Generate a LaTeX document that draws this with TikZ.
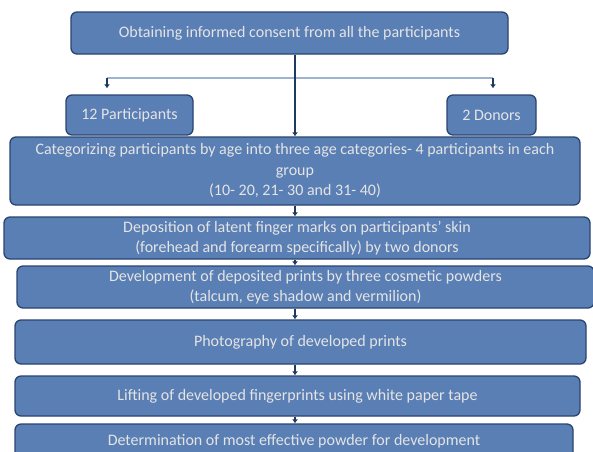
\documentclass[tikz,border=0pt]{standalone}
\usepackage{fontspec}
\setmainfont{Carlito}
\usetikzlibrary{positioning,arrows.meta}
\definecolor{boxfill}{HTML}{5A7FB5}
\definecolor{boxline}{HTML}{2A4470}
\definecolor{boxtext}{HTML}{E4E4E4}
\definecolor{linkcol}{HTML}{1F3A62}
\definecolor{splitcol}{HTML}{9DB3CF}

\begin{document}
\begin{tikzpicture}[x=1pt, y=-1pt,
  stage/.style={draw=boxline, line width=1.3pt, rounded corners=6pt, fill=boxfill,
    text=boxtext, align=center, inner sep=0pt, font=\fontsize{16}{20.5}\selectfont},
  arr/.style={-{Latex[length=4pt,width=6pt]}, line width=2.4pt, draw=linkcol},
  split/.style={line width=1.2pt, draw=splitcol}
]
\useasboundingbox (0,0) rectangle (593,451);
\node[stage, minimum width=437pt, minimum height=42pt] (consent) at (289.5,33) {Obtaining informed consent from all the participants};
\node[stage, minimum width=127pt, minimum height=40pt] (parts) at (129.5,115) {12 Participants};
\node[stage, minimum width=89pt, minimum height=40pt] (donors) at (491.5,115) {2 Donors};
\node[stage, minimum width=570pt, minimum height=68pt] (groups) at (295,171) {Categorizing participants by age into three age categories- 4 participants in each\\ group\\ (10- 20, 21- 30 and 31- 40)};
\node[stage, minimum width=586pt, minimum height=42pt] (deposit) at (297,238) {Deposition of latent finger marks on participants’ skin\\ (forehead and forearm specifically) by two donors};
\node[stage, minimum width=577pt, minimum height=42pt] (develop) at (305.5,287) {Development of deposited prints by three cosmetic powders\\ (talcum, eye shadow and vermilion)};
\node[stage, minimum width=571pt, minimum height=44pt] (photo) at (300.5,342) {Photography of developed prints};
\node[stage, minimum width=565pt, minimum height=40pt] (lift) at (297.5,396) {Lifting of developed fingerprints using white paper tape};
\node[stage, minimum width=558pt, minimum height=34pt] (powder) at (294,441) {Determination of most effective powder for development};
% branch to participants and donors
\coordinate (lsplit) at (107,78);
\coordinate (rsplit) at (493,78);
\draw[split] (lsplit) -- (rsplit);
\draw[arr, line width=1.6pt, shorten >=6pt] (lsplit) -- (lsplit |- parts.north);
\draw[arr, line width=1.6pt, shorten >=6pt] (rsplit) -- (rsplit |- donors.north);
% main flow
\draw[arr] (consent.south -| groups.north) -- (groups.north);
\draw[arr] (groups.south) -- (groups.south |- deposit.north);
\draw[arr] (groups.south |- deposit.south) -- (groups.south |- develop.north);
\draw[arr] (groups.south |- develop.south) -- (groups.south |- photo.north);
\draw[arr] (groups.south |- photo.south) -- (groups.south |- lift.north);
\draw[arr] (groups.south |- lift.south) -- (groups.south |- powder.north);
\end{tikzpicture}
\end{document}
